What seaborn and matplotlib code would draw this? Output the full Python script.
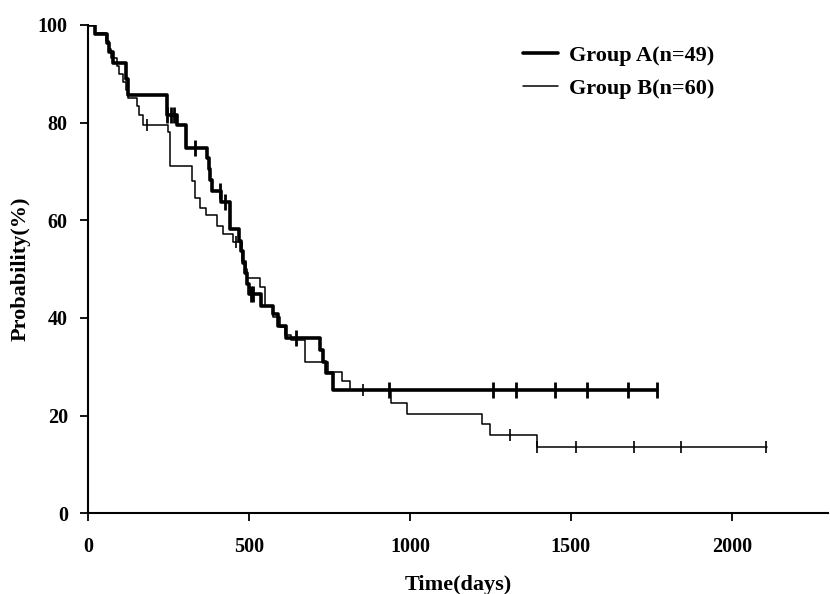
import numpy as np
import pandas as pd
import matplotlib
matplotlib.use("Agg")
import matplotlib.pyplot as plt
import seaborn as sns

# ---- data (Kaplan-Meier steps) ----
labels = ["Group A(n=49)", "Group B(n=60)"]

a_time = [0, 22, 58, 66, 78, 118, 124, 244, 275, 306, 370, 375, 380, 386, 412,
          440, 468, 475, 482, 488, 494, 500, 539, 575, 590, 616, 720, 730, 740, 761]
a_surv = [100, 98.1, 96.4, 94.5, 92.3, 89.0, 85.7, 81.6, 79.6, 74.9, 72.7, 70.5, 68.3, 65.9, 63.7,
          58.3, 55.8, 53.7, 51.3, 49.1, 46.9, 44.8, 42.5, 40.7, 38.4, 35.9, 33.4, 31.0, 28.7, 25.3]
a_end = 1769
a_cens = [246, 258, 268, 332, 409, 425, 505, 512, 647, 934, 1257, 1330, 1451, 1549, 1677, 1769]

b_time = [0, 22, 55, 64, 70, 90, 97, 110, 118, 125, 151, 159, 170, 250, 255, 322, 332, 348,
          368, 400, 420, 452, 478, 490, 495, 533, 549, 575, 595, 611, 630, 673, 745, 790,
          813, 942, 990, 1223, 1249, 1394]
b_surv = [100, 98.3, 96.7, 95.0, 93.3, 91.6, 90.0, 88.3, 86.6, 85.0, 83.3, 81.6, 79.6, 78.0,
          71.2, 68.0, 64.6, 62.6, 61.0, 58.8, 57.2, 55.5, 51.7, 50.0, 48.2, 46.4, 42.5, 40.1,
          38.1, 36.4, 35.4, 30.9, 28.9, 27.0, 25.2, 22.6, 20.4, 18.2, 16.1, 13.5]
b_end = 2110
b_cens = [182, 459, 854, 1312, 1394, 1517, 1697, 1842, 2105]

x_ticks = [0, 500, 1000, 1500, 2000]
y_ticks = [0, 20, 40, 60, 80, 100]


def step_frame(t, s, end):
    t = list(t) + [end]
    s = list(s) + [s[-1]]
    return pd.DataFrame({"time": t, "surv": s})


def cens_frame(t, s, c):
    t = np.asarray(t)
    s = np.asarray(s)
    idx = np.searchsorted(t, c, side="right") - 1
    return pd.DataFrame({"time": c, "surv": s[idx]})


sns.set_theme(style="ticks")
plt.rcParams["font.family"] = ["Liberation Serif", "DejaVu Serif"]
plt.rcParams["font.weight"] = "bold"
plt.rcParams["text.color"] = "black"
plt.rcParams["axes.labelcolor"] = "black"
plt.rcParams["xtick.color"] = "black"
plt.rcParams["ytick.color"] = "black"

fig = plt.figure(figsize=(8.30, 5.94), dpi=100)
ax = fig.add_axes([0.106, 0.136, 0.892, 0.822])

series = [
    (a_time, a_surv, a_end, a_cens, 2.6, 11, 2.0),
    (b_time, b_surv, b_end, b_cens, 1.1, 9, 1.2),
]
for lab, (t, s, end, c, lw, ms, mew) in zip(labels, series):
    df = step_frame(t, s, end)
    sns.lineplot(data=df, x="time", y="surv", ax=ax, color="black", linewidth=lw,
                 drawstyle="steps-post", estimator=None, label=lab)
    cf = cens_frame(t, s, c)
    ax.plot(cf["time"], cf["surv"], linestyle="none", marker="|", color="black",
            markersize=ms, markeredgewidth=mew)

ax.set_xlim(0, 2300)
ax.set_ylim(0, 100)
ax.set_xticks(x_ticks)
ax.set_yticks(y_ticks)
ax.set_xticklabels([str(v) for v in x_ticks])
ax.set_yticklabels([str(v) for v in y_ticks])
for sp in ["top", "right"]:
    ax.spines[sp].set_visible(False)
for sp in ["left", "bottom"]:
    ax.spines[sp].set_linewidth(1.5)
    ax.spines[sp].set_color("black")
ax.tick_params(axis="both", direction="out", length=6, width=1.3, colors="black",
               labelcolor="black", labelsize=14.5)
ax.tick_params(axis="x", pad=11)
ax.tick_params(axis="y", pad=8.5)
for lbl in ax.get_xticklabels() + ax.get_yticklabels():
    lbl.set_fontweight("bold")

ax.set_xlabel("Time(days)", fontsize=16, fontweight="bold", labelpad=13, color="black")
ax.set_ylabel("Probability(%)", fontsize=16, fontweight="bold", labelpad=5, color="black")

leg = ax.legend(loc="upper left", bbox_to_anchor=(0.561, 1.0), frameon=False,
                handlelength=1.55, handletextpad=0.5, labelspacing=0.58,
                prop={"size": 16, "weight": "bold"})
for line in leg.get_lines():
    line.set_color("black")
for txt in leg.get_texts():
    txt.set_color("black")

fig.savefig("out.png", dpi=100, facecolor="white")
